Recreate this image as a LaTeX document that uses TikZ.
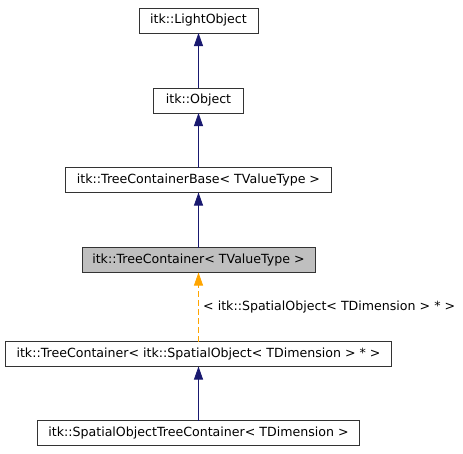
\documentclass[tikz,border=0pt]{standalone}
\usepackage{fontspec}
\setmainfont{DejaVu Sans}
\usetikzlibrary{arrows.meta}
\definecolor{edgeblue}{HTML}{191970}
\definecolor{edgeorange}{HTML}{FFA500}
\definecolor{boxgray}{HTML}{BFBFBF}
\begin{document}
\begin{tikzpicture}[x=1pt,y=-1pt,
  lbl/.style={font=\fontsize{12.6}{15}\selectfont},
  cls/.style={lbl, draw=black!80, line width=0.9pt, rectangle, inner sep=0pt, outer sep=0pt, minimum height=25pt},
  inh/.style={draw=edgeblue, line width=0.8pt, -{Triangle[length=13pt,width=9pt]}},
  tmpl/.style={draw=edgeorange, line width=0.8pt, dash pattern=on 6pt off 3pt, -{Triangle[length=13pt,width=9pt]}}]
\useasboundingbox (0,0) rectangle (463,453);
\node[cls, minimum width=119pt] (lo) at (198.5,20.5) {itk::LightObject};
\node[cls, minimum width=90pt] (obj) at (198.5,100.5) {itk::Object};
\node[cls, minimum width=266pt] (tcb) at (198.5,180) {itk::TreeContainerBase< TValueType >};
\node[cls, minimum width=233pt, fill=boxgray] (tc) at (198.5,260) {itk::TreeContainer< TValueType >};
\node[cls, minimum width=386pt] (tcs) at (198.5,354) {itk::TreeContainer< itk::SpatialObject< TDimension > * >};
\node[cls, minimum width=322pt] (sotc) at (198.5,433) {itk::SpatialObjectTreeContainer< TDimension >};
\draw[inh] (obj.north) -- (lo.south);
\draw[inh] (tcb.north) -- (obj.south);
\draw[inh] (tc.north) -- (tcb.south);
\draw[tmpl] (tcs.north) -- node[lbl, right, xshift=1pt] {< itk::SpatialObject< TDimension > * >} (tc.south);
\draw[inh] (sotc.north) -- (tcs.south);
\end{tikzpicture}
\end{document}
